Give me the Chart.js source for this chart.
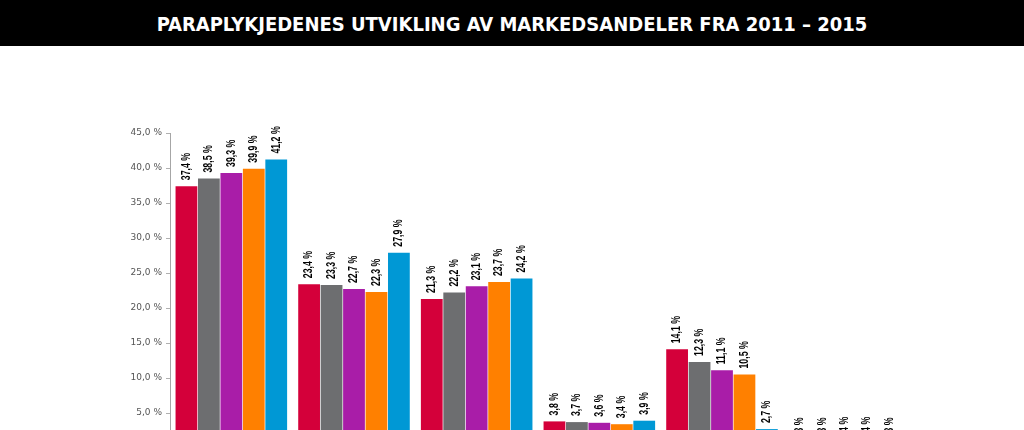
<!DOCTYPE html>
<html lang="no">
<head>
<meta charset="utf-8">
<title>Paraplykjedenes markedsandeler</title>
<script src="https://cdn.jsdelivr.net/npm/chart.js"></script>
<style>
  html, body { margin: 0; padding: 0; background: #fff; overflow: hidden; }
  #tittel {
    height: 46px; background: #000; color: #fff;
    font: bold 20px "DejaVu Sans Condensed", "Liberation Sans Narrow", sans-serif;
    text-align: center; line-height: 48px; letter-spacing: 0;
  }
  #wrap { position: absolute; top: 46px; left: 0; width: 1024px; height: 462px; }
</style>
</head>
<body>
<div id="tittel">PARAPLYKJEDENES UTVIKLING AV MARKEDSANDELER FRA 2011 – 2015</div>
<div id="wrap"><canvas id="chart" width="1024" height="462"></canvas></div>
<script>
// Kategoriene (navnene står under grafen og er kuttet bort i bildet)
const kjeder = ['Kjede 1', 'Kjede 2', 'Kjede 3', 'Kjede 4', 'Kjede 5', 'Kjede 6'];
const aar = ['2011', '2012', '2013', '2014', '2015'];
const farger = ['#d4003a', '#6d6e70', '#a91da8', '#ff8000', '#0098d5'];

// Markedsandel i prosent, en liste per år
const andel2011 = [37.4, 23.4, 21.3, 3.8, 14.1, 0.3];
const andel2012 = [38.5, 23.3, 22.2, 3.7, 12.3, 0.3];
const andel2013 = [39.3, 22.7, 23.1, 3.6, 11.1, 0.4];
const andel2014 = [39.9, 22.3, 23.7, 3.4, 10.5, 0.4];
const andel2015 = [41.2, 27.9, 24.2, 3.9, 2.7, 0.3];
const serier = [andel2011, andel2012, andel2013, andel2014, andel2015];

const yTicks = [0, 5, 10, 15, 20, 25, 30, 35, 40, 45];

const fmt = v => v.toFixed(1).replace('.', ',') + ' %';

// Loddrette verdietiketter over hver søyle (smal, fet skrift)
const verdiEtiketter = {
  id: 'verdiEtiketter',
  afterDatasetsDraw(chart) {
    const ctx = chart.ctx;
    ctx.save();
    ctx.font = 'bold 12px "Liberation Sans", sans-serif';
    ctx.fillStyle = '#000';
    ctx.textAlign = 'left';
    ctx.textBaseline = 'middle';
    chart.data.datasets.forEach((ds, i) => {
      chart.getDatasetMeta(i).data.forEach((bar, j) => {
        ctx.save();
        ctx.translate(bar.x, bar.y - 6);
        ctx.rotate(-Math.PI / 2);
        ctx.scale(0.73, 1);
        ctx.fillText(fmt(ds.data[j]), 0, 0);
        ctx.restore();
      });
    });
    ctx.restore();
  }
};

new Chart(document.getElementById('chart'), {
  type: 'bar',
  data: {
    labels: kjeder,
    datasets: serier.map((d, i) => ({
      label: aar[i],
      data: d,
      backgroundColor: farger[i],
      borderWidth: 0,
      barPercentage: 0.97,
      categoryPercentage: 0.915
    }))
  },
  options: {
    responsive: false,
    animation: false,
    layout: { padding: { top: 87, right: 118, left: 0, bottom: 0 } },
    plugins: {
      legend: { display: false },
      tooltip: { enabled: false },
      title: { display: false }
    },
    scales: {
      x: {
        grid: { display: false },
        border: { display: true, color: '#a6a6a6' },
        ticks: { display: false },
        afterFit: s => { s.height = 60; }
      },
      y: {
        min: 0,
        max: 45,
        afterBuildTicks: s => { s.ticks = yTicks.map(v => ({ value: v })); },
        ticks: {
          callback: v => fmt(v),
          color: '#555',
          padding: 4,
          font: { family: '"DejaVu Sans", sans-serif', size: 9 }
        },
        grid: { drawOnChartArea: false, drawTicks: true, tickLength: 4, color: '#b0b0b0' },
        border: { display: true, color: '#a6a6a6' },
        afterFit: s => { s.width = 170; }
      }
    }
  },
  plugins: [verdiEtiketter]
});
</script>
</body>
</html>
